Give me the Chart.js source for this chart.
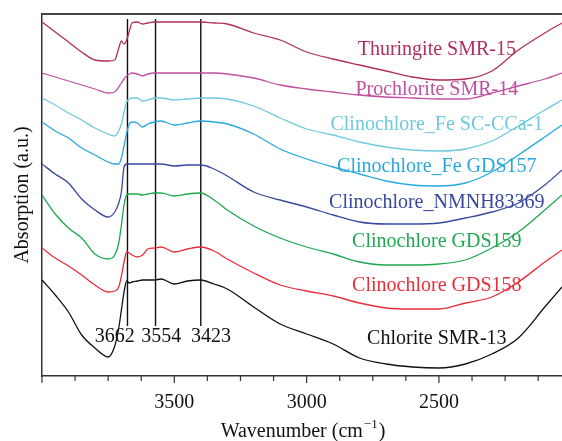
<!DOCTYPE html>
<html>
<head>
<meta charset="utf-8">
<script src="https://cdn.jsdelivr.net/npm/chart.js@4.4.1/dist/chart.umd.min.js"></script>
<style>
  html, body { margin: 0; padding: 0; background: #fff; }
  #wrap { width: 562px; height: 441px; position: relative; }
</style>
</head>
<body>
<div id="wrap"><canvas id="myChart"></canvas></div>
<script>
// wavenumber (cm-1) sample points, shared by all spectra
const wavenumbers = [4000, 3950, 3900, 3850, 3800, 3750, 3725, 3710, 3700, 3690, 3680, 3670, 3660, 3640, 3620, 3600, 3575, 3550, 3500, 3450, 3400, 3350, 3300, 3200, 3100, 3000, 2900, 2800, 2700, 2600, 2500, 2400, 2300, 2200, 2100, 2035];

// absorption, arbitrary units (curves already stacked)
const thuringiteSMR15 = [354, 344, 334, 324, 316, 315, 316, 328, 335, 332, 336, 345, 353, 354, 352, 353, 354, 354, 354, 354, 354, 353, 352, 343, 336, 324, 317, 311, 305, 299, 296, 297, 305, 326, 343, 353];
const prochloriteSMR14 = [303, 299, 295, 291, 287, 283, 284, 289, 293, 297, 300, 302, 303, 302, 300, 302, 303, 303, 303, 303, 303, 303, 302, 298, 291, 287, 284, 281, 279, 278, 277, 277, 283, 290, 297, 303];
const clinoFeSCCCa1 = [278, 271, 263, 256, 248, 242, 240, 245, 252, 264, 274, 277, 278, 278, 275, 276, 278, 278, 276, 277, 278, 278, 277, 270, 258, 247, 241, 234, 229, 226, 225, 227, 235, 250, 266, 276];
const clinoFeGDS157 = [254, 245, 238, 228, 221, 214, 212, 212, 218, 230, 243, 252, 254, 253, 249, 252, 254, 255, 251, 253, 255, 254, 252, 242, 227, 217, 209, 202, 195, 191, 190, 193, 204, 221, 239, 251];
const clinoNMNH83369 = [212, 202, 193, 177, 166, 159, 164, 173, 184, 209, 212, 212, 212, 212, 212, 212, 212, 212, 210, 211, 211, 207, 200, 184, 176, 169, 161, 154, 152, 152, 153, 158, 164, 173, 191, 206];
const clinoGDS159 = [181, 162, 148, 138, 122, 117, 121, 133, 151, 171, 181, 182, 182, 182, 181, 182, 183, 183, 180, 182, 183, 176, 166, 150, 138, 129, 122, 114, 111, 111, 112, 116, 128, 144, 166, 181];
const clinoGDS158 = [128, 118, 110, 101, 91, 84, 85, 89, 100, 114, 124, 123, 121, 119, 121, 127, 128, 129, 124, 127, 129, 125, 117, 103, 91, 85, 80, 73, 68, 67, 67, 73, 79, 94, 114, 126];
const chloriteSMR13 = [96, 81, 64, 41, 28, 19, 30, 48, 66, 84, 95, 93, 94, 95, 96, 96, 96, 97, 92, 95, 96, 92, 87, 69, 52, 42, 32, 18, 12, 9, 8, 12, 22, 38, 69, 89];

const seriesNames = ["Thuringite SMR-15", "Prochlorite SMR-14", "Clinochlore_Fe SC-CCa-1", "Clinochlore_Fe GDS157", "Clinochlore_NMNH83369", "Clinochlore GDS159", "Clinochlore GDS158", "Chlorite SMR-13"];
const tickLabels = [3500, 3000, 2500];
const peakLabels = ["3662", "3554", "3423"];
const peakLines = [3677, 3571, 3400];

const FONT = "'Liberation Serif', 'Times New Roman', serif";
const colors = ["#b02f5f", "#c050a0", "#70c9dd", "#28a8e0", "#37499e", "#1fa84f", "#e92d3a", "#111111"];
// label anchors: x in wavenumber, y baseline in absorption units
const labelX = 2508;
const labelY = [321, 281, 246, 204, 168, 129, 85, 32];
const peakLabelX = [3725, 3549, 3361];
const peakLabelY = 34;

const spectra = [thuringiteSMR15, prochloriteSMR14, clinoFeSCCCa1, clinoFeGDS157, clinoNMNH83369, clinoGDS159, clinoGDS158, chloriteSMR13];

const datasets = spectra.map((vals, i) => ({
  label: seriesNames[i],
  data: wavenumbers.map((w, j) => ({ x: w, y: vals[j] })),
  borderColor: colors[i],
  borderWidth: 1.3,
  pointRadius: 0,
  cubicInterpolationMode: "monotone",
  fill: false,
}));

peakLines.forEach((w) => {
  datasets.push({
    label: "peak " + w,
    data: [{ x: w, y: 357 }, { x: w, y: 50 }],
    borderColor: "#111",
    borderWidth: 1.4,
    pointRadius: 0,
  });
});

const annotations = {
  id: "annotations",
  afterDraw(chart) {
    const { ctx, chartArea, scales } = chart;
    const x = scales.x, y = scales.y;
    ctx.save();
    // top frame line
    ctx.strokeStyle = "#444";
    ctx.lineWidth = 2;
    ctx.beginPath();
    ctx.moveTo(chartArea.left, chartArea.top);
    ctx.lineTo(chartArea.right, chartArea.top);
    ctx.stroke();
    // x tick marks (major every 500, minor every 125)
    ctx.strokeStyle = "#333";
    ctx.lineWidth = 1.2;
    x.ticks.forEach((t) => {
      const px = x.getPixelForValue(t.value);
      if (px < chartArea.left - 0.5 || px > chartArea.right) return;
      const len = t.value % 500 === 0 ? 7 : 5;
      ctx.beginPath();
      ctx.moveTo(px, chartArea.bottom);
      ctx.lineTo(px, chartArea.bottom + len);
      ctx.stroke();
    });
    // series labels
    ctx.font = "20px " + FONT;
    ctx.textAlign = "center";
    ctx.textBaseline = "alphabetic";
    seriesNames.forEach((name, i) => {
      ctx.fillStyle = colors[i];
      ctx.fillText(name, x.getPixelForValue(labelX), y.getPixelForValue(labelY[i]));
    });
    // peak labels
    ctx.fillStyle = "#111";
    peakLabels.forEach((t, i) => {
      ctx.fillText(t, x.getPixelForValue(peakLabelX[i]), y.getPixelForValue(peakLabelY));
    });
    // axis titles
    ctx.fillStyle = "#111";
    ctx.font = "20px " + FONT;
    const main = "Wavenumber (cm";
    const sup = "\u22121";
    const close = ")";
    const wMain = ctx.measureText(main).width;
    ctx.font = "13px " + FONT;
    const wSup = ctx.measureText(sup).width;
    ctx.font = "20px " + FONT;
    const wClose = ctx.measureText(close).width;
    let sx = (chartArea.left + chartArea.right) / 2 - (wMain + wSup + wClose) / 2;
    const by = 437;
    ctx.textAlign = "left";
    ctx.fillText(main, sx, by);
    ctx.font = "13px " + FONT;
    ctx.fillText(sup, sx + wMain + 1, by - 9);
    ctx.font = "20px " + FONT;
    ctx.fillText(close, sx + wMain + wSup + 2, by);

    ctx.translate(28, (chartArea.top + chartArea.bottom) / 2);
    ctx.rotate(-Math.PI / 2);
    ctx.textAlign = "center";
    ctx.fillText("Absorption (a.u.)", 0, 0);
    ctx.restore();
  },
};

const chart = new Chart(document.getElementById("myChart"), {
  type: "line",
  data: { datasets },
  options: {
    animation: false,
    responsive: true,
    maintainAspectRatio: false,
    events: [],
    layout: { padding: { top: 14, right: 0, left: 0, bottom: 0 } },
    plugins: { legend: { display: false }, tooltip: { enabled: false } },
    scales: {
      x: {
        type: "linear",
        reverse: true,
        min: 2035,
        max: 4000,
        afterFit: (scale) => { scale.height = 65; },
        border: { display: true, color: "#333", width: 1.5 },
        grid: { display: false, drawTicks: false },
        ticks: {
          stepSize: 125,
          includeBounds: false,
          autoSkip: false,
          maxRotation: 0,
          padding: 15,
          color: "#111",
          font: { family: FONT, size: 20 },
          callback: (v) => (tickLabels.includes(v) ? String(v) : ""),
        },
      },
      y: {
        min: 0,
        max: 362,
        afterFit: (scale) => { scale.width = 42; },
        border: { display: true, color: "#333", width: 1.5 },
        grid: { display: false, drawTicks: false },
        ticks: { display: false },
      },
    },
  },
  plugins: [annotations],
});
</script>
</body>
</html>
